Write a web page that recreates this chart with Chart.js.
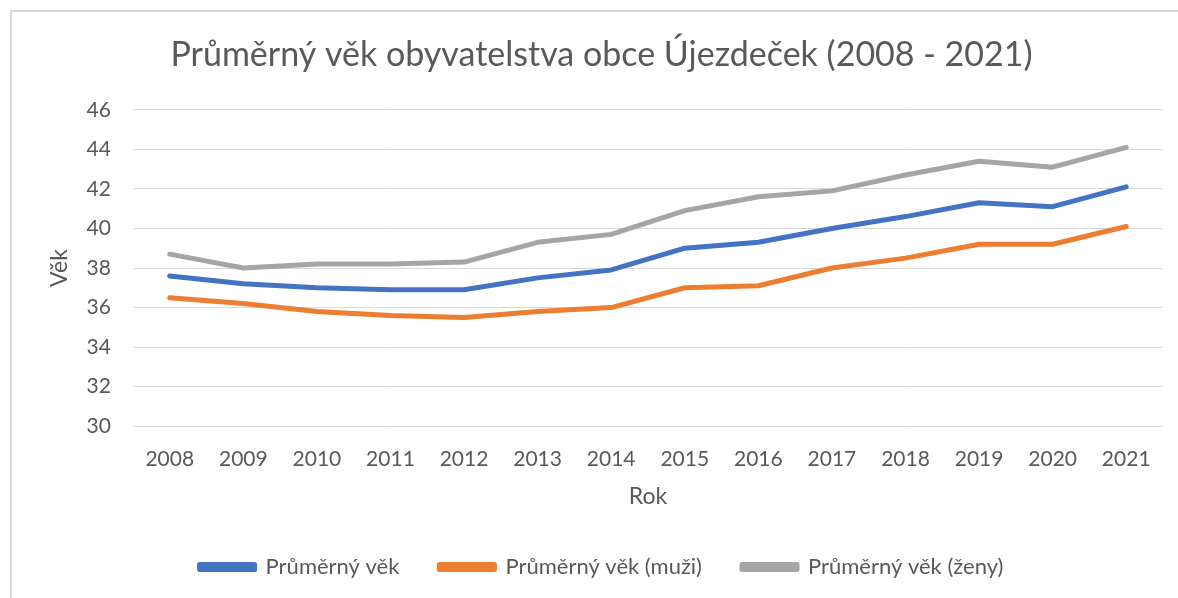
<!DOCTYPE html>
<html>
<head>
<meta charset="utf-8">
<script src="https://cdn.jsdelivr.net/npm/chart.js@4/dist/chart.umd.min.js"></script>
<style>
html,body{margin:0;padding:0;background:#fff;}
#wrap{position:absolute;left:0;top:0;width:1178px;height:598px;}
</style>
</head>
<body>
<div id="wrap"><canvas id="c" width="1178" height="598"></canvas></div>
<script>
const years = ['2008','2009','2010','2011','2012','2013','2014','2015','2016','2017','2018','2019','2020','2021'];
const avgAll = [37.6, 37.2, 37.0, 36.9, 36.9, 37.5, 37.9, 39.0, 39.3, 40.0, 40.6, 41.3, 41.1, 42.1];
const avgMen = [36.5, 36.2, 35.8, 35.6, 35.5, 35.8, 36.0, 37.0, 37.1, 38.0, 38.5, 39.2, 39.2, 40.1];
const avgWomen = [38.7, 38.0, 38.2, 38.2, 38.3, 39.3, 39.7, 40.9, 41.6, 41.9, 42.7, 43.4, 43.1, 44.1];
const seriesNames = ['Průměrný věk', 'Průměrný věk (muži)', 'Průměrný věk (ženy)'];
const colors = ['#4472c4', '#ed7d31', '#a5a5a5'];
const FONT = 'Lato, "Open Sans", sans-serif';
const TXT = '#595959';

const borderPlugin = {
  id: 'frame',
  beforeDraw(chart) {
    const ctx = chart.ctx;
    ctx.save();
    ctx.fillStyle = '#fff';
    ctx.fillRect(0, 0, chart.width, chart.height);
    ctx.strokeStyle = '#d9d9d9';
    ctx.lineWidth = 2;
    ctx.beginPath();
    ctx.moveTo(11, 600);
    ctx.lineTo(11, 11);
    ctx.lineTo(1178, 11);
    ctx.stroke();
    ctx.restore();
  }
};

const mk = (data, i) => ({
  label: seriesNames[i],
  data: data,
  borderColor: colors[i],
  backgroundColor: colors[i],
  borderWidth: 5,
  pointRadius: 0,
  pointHoverRadius: 0,
  tension: 0,
  fill: false,
  borderCapStyle: 'round',
  borderJoinStyle: 'round'
});

new Chart(document.getElementById('c'), {
  type: 'line',
  data: {
    labels: years,
    datasets: [mk(avgAll, 0), mk(avgMen, 1), mk(avgWomen, 2)]
  },
  plugins: [borderPlugin],
  options: {
    responsive: false,
    animation: false,
    layout: { padding: { left: 40, right: 15, top: 28, bottom: 10 } },
    plugins: {
      title: {
        display: true,
        text: 'Průměrný věk obyvatelstva obce Újezdeček (2008 - 2021)',
        color: TXT,
        font: { family: FONT, size: 34, weight: 'normal' },
        padding: { top: 7, bottom: 34 }
      },
      legend: {
        position: 'bottom',
        labels: {
          color: TXT,
          font: { family: FONT, size: 22 },
          boxWidth: 55,
          boxHeight: 5,
          padding: 40
        }
      },
      tooltip: { enabled: false }
    },
    scales: {
      x: {
        offset: true,
        grid: { display: false, drawTicks: false },
        border: { display: false },
        ticks: { color: TXT, font: { family: FONT, size: 21 }, padding: 20, maxRotation: 0 },
        title: { display: true, text: 'Rok', color: TXT, font: { family: FONT, size: 23 }, padding: { top: -9, bottom: 6 } }
      },
      y: {
        min: 30,
        max: 46,
        ticks: { stepSize: 2, color: TXT, font: { family: FONT, size: 21 }, padding: 22 },
        grid: { color: '#d9d9d9', lineWidth: 1, drawTicks: false },
        border: { display: false },
        title: { display: true, text: 'Věk', color: TXT, font: { family: FONT, size: 23 }, padding: { top: 6, bottom: -9 } }
      }
    }
  }
});
</script>
</body>
</html>
